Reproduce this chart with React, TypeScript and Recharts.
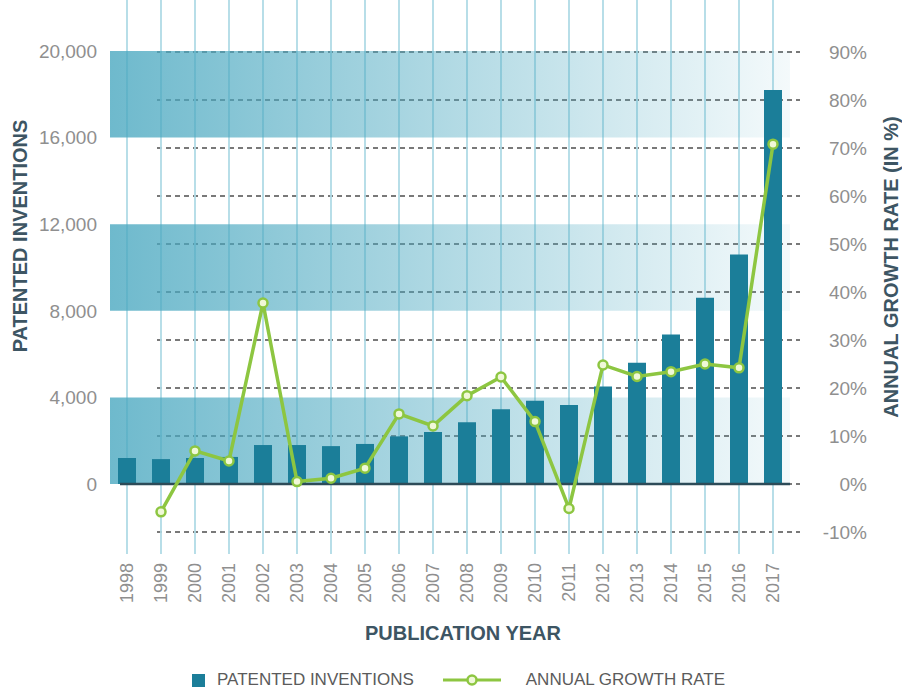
import React from 'react';
import {
  ComposedChart, Bar, Line, XAxis, YAxis, CartesianGrid, ReferenceArea, ReferenceLine, Legend,
} from 'recharts';

const years = ['1998','1999','2000','2001','2002','2003','2004','2005','2006','2007','2008','2009','2010','2011','2012','2013','2014','2015','2016','2017'];
const patentedInventions = [1200, 1150, 1200, 1250, 1800, 1800, 1750, 1850, 2200, 2400, 2850, 3450, 3850, 3650, 4500, 5600, 6900, 8600, 10600, 18200];
const annualGrowthRate: (number | null)[] = [null, -5.8, 6.9, 4.8, 37.7, 0.5, 1.2, 3.3, 14.6, 12.1, 18.4, 22.3, 13.0, -5.1, 24.8, 22.4, 23.4, 25.0, 24.2, 70.8];
const leftTicks = [0, 4000, 8000, 12000, 16000, 20000];
const rightTicks = [-10, 0, 10, 20, 30, 40, 50, 60, 70, 80, 90];
const bands = [[0, 4000], [8000, 12000], [16000, 20000]];

const data = years.map((y, i) => ({ year: y, patents: patentedInventions[i], growth: annualGrowthRate[i] }));

const FONT = "'Liberation Sans', Arial, Helvetica, sans-serif";
const BAR = '#1b7e99';
const GREEN = '#8dc641';
const TICK = '#8f8f8f';
const TITLE = '#3d5563';
const VLINE = '#b0dbe6';

const XTick = (p: any) => (
  <text x={p.x} y={p.y} dy={6} transform={`rotate(-90 ${p.x} ${p.y})`} textAnchor="end"
    fill={TICK} fontSize={18} fontFamily={FONT}>{p.payload.value}</text>
);

const RightTick = (p: any) => (
  <text x={p.x + 77} y={p.y} dy={7} textAnchor="end" fill={TICK} fontSize={19} fontFamily={FONT}>
    {p.payload.value}%
  </text>
);

const renderLegend = () => (
  <div style={{ display: 'flex', alignItems: 'center', marginLeft: 192, fontFamily: FONT, fontSize: 17, color: '#5b5b5b' }}>
    <span style={{ width: 13, height: 13, background: BAR, display: 'inline-block' }} />
    <span style={{ marginLeft: 12 }}>PATENTED INVENTIONS</span>
    <svg width={58} height={14} style={{ marginLeft: 29 }}>
      <line x1={0} y1={7} x2={58} y2={7} stroke={GREEN} strokeWidth={3} />
      <circle cx={29} cy={7} r={4.5} fill="#f0f8d8" stroke={GREEN} strokeWidth={2.5} />
    </svg>
    <span style={{ marginLeft: 25 }}>ANNUAL GROWTH RATE</span>
  </div>
);

export default function App() {
  return (
    <div style={{ position: 'absolute', left: 0, top: 0 }}>
      <ComposedChart width={902} height={696} data={data} margin={{ top: 0, right: 52, bottom: 64, left: 50 }}>
        <defs>
          <linearGradient id="bandGrad" x1="0" y1="0" x2="1" y2="0">
            <stop offset="0%" stopColor="#4aa8c0" stopOpacity={0.8} />
            <stop offset="100%" stopColor="#4aa8c0" stopOpacity={0.06} />
          </linearGradient>
        </defs>
        {bands.map((b, i) => (
          <ReferenceArea key={i} yAxisId="left" y1={b[0]} y2={b[1]} fill="url(#bandGrad)" fillOpacity={1} stroke="none" ifOverflow="visible" />
        ))}
        <CartesianGrid
          yAxisId="right"
          vertical={(p: any) => (p.x1 < 115 || p.x1 > 785 ? <g key={p.key} /> : (
            <line key={p.key} x1={p.x1} x2={p.x2} y1={p.y1} y2={p.y2} stroke={VLINE} strokeWidth={1.8} />
          ))}
          horizontal={(p: any) => (p.y1 < 5 ? <g key={p.key} /> : (
            <line key={p.key} x1={p.x1 + 47} x2={p.x2 + 10} y1={p.y1} y2={p.y2}
              stroke="#4d4d4d" strokeWidth={1.5} strokeDasharray="5 4" />
          ))}
        />
        <XAxis dataKey="year" height={100} axisLine={false} tickSize={22} tickMargin={9}
          tickLine={{ stroke: VLINE, strokeWidth: 1.8 }} tick={<XTick />} interval={0}
          label={(props: any) => {
            const vb = props.viewBox;
            return (
              <text x={vb.x + vb.width / 2 + 13} y={640} textAnchor="middle" fill={TITLE}
                fontSize={20} fontWeight="bold" fontFamily={FONT}>PUBLICATION YEAR</text>
            );
          }}
        />
        <YAxis yAxisId="left" orientation="left" width={60} domain={[-2217, 22356]} ticks={leftTicks}
          allowDataOverflow axisLine={false} tickLine={false} tickSize={6} tickMargin={7}
          tickFormatter={(v: number) => v.toLocaleString('en-US')}
          tick={{ fill: TICK, fontSize: 19, fontFamily: FONT }}
          label={() => (
            <text x={27} y={236} transform="rotate(-90 27 236)" textAnchor="middle" fill={TITLE}
              fontSize={20} fontWeight="bold" fontFamily={FONT}>PATENTED INVENTIONS</text>
          )}
        />
        <YAxis yAxisId="right" orientation="right" width={60} domain={[-10, 100.83]} ticks={rightTicks}
          allowDataOverflow axisLine={false} tickLine={false} tickSize={0} tickMargin={0}
          tick={<RightTick />}
          label={() => (
            <text x={898} y={267} transform="rotate(-90 898 267)" textAnchor="middle" fill={TITLE}
              fontSize={20} fontWeight="bold" fontFamily={FONT}>ANNUAL GROWTH RATE (IN %)</text>
          )}
        />
        <Bar yAxisId="left" dataKey="patents" fill={BAR} barSize={18} isAnimationActive={false} />
        <ReferenceLine yAxisId="right" y={0} ifOverflow="visible"
          shape={(p: any) => (
            <line x1={p.x1} x2={p.x2 + 10} y1={p.y1} y2={p.y2} stroke="#2d4b58" strokeWidth={2.5} />
          )}
        />
        <Line yAxisId="right" dataKey="growth" stroke={GREEN} strokeWidth={3.5} isAnimationActive={false}
          dot={{ r: 4.5, fill: '#f0f8d8', stroke: GREEN, strokeWidth: 2.5 }} activeDot={false} />
        <Legend layout="horizontal" verticalAlign="middle" align="center" content={renderLegend}
          wrapperStyle={{ top: 670, left: 0, width: 902 }} />
      </ComposedChart>
    </div>
  );
}
